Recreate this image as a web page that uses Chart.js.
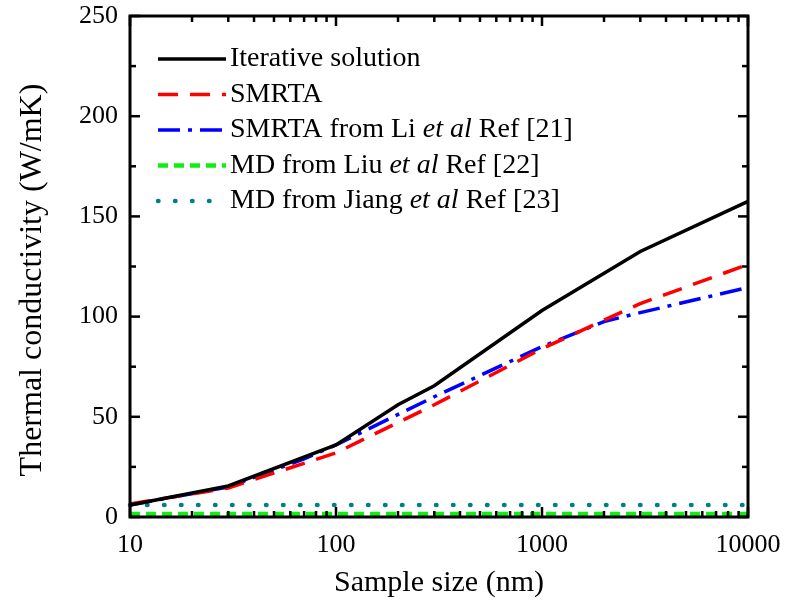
<!DOCTYPE html>
<html><head><meta charset="utf-8">
<script src="https://cdn.jsdelivr.net/npm/chart.js@4/dist/chart.umd.min.js"></script>
<style>html,body{margin:0;padding:0;background:#fff}</style>
</head><body>
<canvas id="c" width="785" height="611" style="width:785px;height:611px;display:block"></canvas>
<script>
// ---- data ----
const iterX = [10, 30, 100, 200, 300, 1000, 3000, 10000];
const iterY = [6, 15.5, 36, 56, 65.5, 103, 132.5, 157.5];
const smrtaX = [10, 30, 100, 300, 1000, 3000, 10000];
const smrtaY = [6.5, 14.5, 32, 56, 84, 106.5, 126];
const liX = [10, 30, 70, 100, 300, 1000, 2000, 3000, 10000];
const liY = [6, 15, 29, 36, 60, 85, 97.5, 102, 114.5];
const liuX = [10, 10000];
const liuY = [1.5, 1.5];
const jiangX = [10, 10000];
const jiangY = [6, 6];

const xMajor = [10, 100, 1000, 10000];
const xMajorLabels = ['10', '100', '1000', '10000'];
const yMajor = [0, 50, 100, 150, 200, 250];
const yMinor = [25, 75, 125, 175, 225];
const legendLabels = [
  [['Iterative solution', false]],
  [['SMRTA', false]],
  [['SMRTA from Li ', false], ['et al', true], [' Ref [21]', false]],
  [['MD from Liu ', false], ['et al', true], [' Ref [22]', false]],
  [['MD from Jiang ', false], ['et al', true], [' Ref [23]', false]]
];
const xTitle = 'Sample size (nm)';
const yTitle = 'Thermal conductivity (W/mK)';

const pts = (xs, ys) => xs.map((x, i) => ({x: x, y: ys[i]}));
const FONT = "'Liberation Serif', 'Times New Roman', serif";

const datasets = [
  {label: 'Iterative solution', data: pts(iterX, iterY), borderColor: '#000000', borderWidth: 3.5, borderDash: []},
  {label: 'SMRTA', data: pts(smrtaX, smrtaY), borderColor: '#ff0000', borderWidth: 3.5, borderDash: [20, 12]},
  {label: 'SMRTA from Li', data: pts(liX, liY), borderColor: '#0000ff', borderWidth: 3.5, borderDash: [22, 8, 4, 8]},
  {label: 'MD from Liu', data: pts(liuX, liuY), borderColor: '#11ee11', borderWidth: 4.5, borderDash: [10, 6]},
  {label: 'MD from Jiang', data: pts(jiangX, jiangY), borderColor: '#008080', borderWidth: 4.5, borderDash: [0.5, 16.5], borderCapStyle: 'round'}
].map(d => Object.assign({pointRadius: 0, fill: false, tension: 0, clip: false}, d));

const framePlugin = {
  id: 'frame',
  afterDraw(chart) {
    const ctx = chart.ctx, a = chart.chartArea;
    const xs = chart.scales.x, ys = chart.scales.y;
    ctx.save();
    ctx.strokeStyle = '#000';
    ctx.lineWidth = 2.5;
    ctx.lineCap = 'butt';
    // ticks
    const tick = (x1, y1, x2, y2) => { ctx.beginPath(); ctx.moveTo(x1, y1); ctx.lineTo(x2, y2); ctx.stroke(); };
    const majL = 10, minL = 6;
    for (let d = 10; d <= 10000; d *= 10) {
      for (let m = 1; m <= 9; m++) {
        const v = d * m;
        if (v > 10000) break;
        const px = xs.getPixelForValue(v);
        const L = m === 1 ? majL : minL;
        tick(px, a.bottom, px, a.bottom - L);
        tick(px, a.top, px, a.top + L);
      }
    }
    yMajor.forEach(v => { const py = ys.getPixelForValue(v); tick(a.left, py, a.left + majL, py); tick(a.right, py, a.right - majL, py); });
    yMinor.forEach(v => { const py = ys.getPixelForValue(v); tick(a.left, py, a.left + minL, py); tick(a.right, py, a.right - minL, py); });
    // frame
    ctx.lineWidth = 3;
    ctx.strokeRect(a.left, a.top, a.right - a.left, a.bottom - a.top);
    // tick labels
    ctx.fillStyle = '#000';
    ctx.font = '26px ' + FONT;
    ctx.textAlign = 'center';
    ctx.textBaseline = 'middle';
    xMajor.forEach((v, i) => ctx.fillText(xMajorLabels[i], xs.getPixelForValue(v), a.bottom + 28));
    ctx.textAlign = 'right';
    yMajor.forEach(v => ctx.fillText(String(v), a.left - 12, ys.getPixelForValue(v)));
    // axis titles
    ctx.font = '30px ' + FONT;
    ctx.textAlign = 'center';
    ctx.fillText(xTitle, (a.left + a.right) / 2, 583);
    ctx.save();
    ctx.translate(33, 280);
    ctx.rotate(-Math.PI / 2);
    ctx.font = '32px ' + FONT;
    ctx.fillText(yTitle, 0, 0);
    ctx.restore();
    // legend
    const rowY0 = 59, rowStep = 35.5, lx0 = 158, lx1 = 226, tx = 230;
    chart.data.datasets.forEach((ds, i) => {
      const y = rowY0 + i * rowStep;
      ctx.save();
      ctx.strokeStyle = ds.borderColor;
      ctx.lineWidth = ds.borderWidth;
      ctx.setLineDash(ds.borderDash || []);
      ctx.lineCap = ds.borderCapStyle || 'butt';
      ctx.beginPath(); ctx.moveTo(lx0, y); ctx.lineTo(lx1, y); ctx.stroke();
      ctx.restore();
      let x = tx;
      ctx.textAlign = 'left';
      legendLabels[i].forEach(([t, it]) => {
        ctx.font = (it ? 'italic ' : '') + '28px ' + FONT;
        ctx.fillText(t, x, y);
        x += ctx.measureText(t).width;
      });
    });
    ctx.restore();
  }
};

new Chart(document.getElementById('c'), {
  type: 'line',
  data: {datasets: datasets},
  options: {
    responsive: false,
    animation: false,
    devicePixelRatio: 1,
    layout: {padding: {left: 130, right: 37, top: 16, bottom: 94}},
    plugins: {legend: {display: false}, tooltip: {enabled: false}},
    scales: {
      x: {type: 'logarithmic', min: 10, max: 10000, display: false},
      y: {type: 'linear', min: 0, max: 250, display: false}
    }
  },
  plugins: [framePlugin]
});
</script>
</body></html>
